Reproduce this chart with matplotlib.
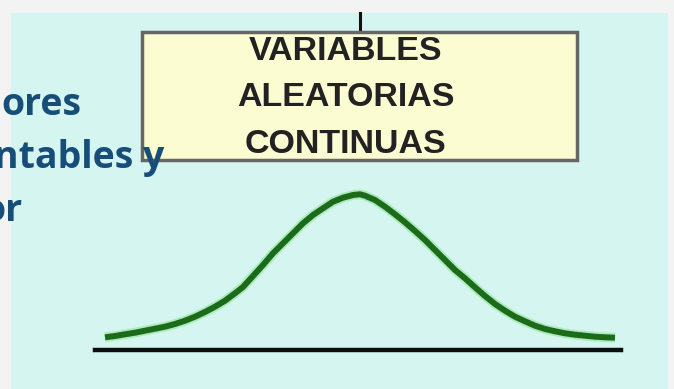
import matplotlib.pyplot as plt
from matplotlib.patches import Rectangle

# Bell curve (pixel coords, y grows downward)
curve_x = [105, 115, 125, 135, 145, 155, 165, 175, 185, 195, 205, 215, 225, 235,
           243, 253, 263, 273, 283, 293, 303, 313, 323, 333, 343, 353, 360,
           365, 375, 385, 395, 405, 415, 425, 435, 445, 455,
           465, 475, 485, 495, 505, 515, 525, 535, 545, 555, 565, 575, 585, 595, 605, 615]
curve_y = [337.3, 336.0, 334.3, 332.7, 330.7, 328.7, 326.7, 324.0, 320.7, 316.7, 312.0,
           306.7, 300.7, 293.3,
           287.0, 276.0, 265.0, 253.3, 243.3, 233.3, 223.3, 215.0, 208.3, 201.7, 197.7,
           195.0, 194.3,
           195.7, 200.0, 206.7, 214.3, 222.3, 231.0, 240.0, 250.0, 260.0, 270.0,
           278.3, 287.3, 296.0, 304.0, 310.7, 316.7, 321.3, 325.7, 329.0, 331.3, 333.3,
           334.7, 335.7, 336.7, 337.3, 337.7]

box_lines = ["VARIABLES", "ALEATORIAS", "CONTINUAS"]
side_lines = ["ores", "ntables y", "or"]
side_x = [1, -6, -18]

fig = plt.figure(figsize=(6.74, 3.89), dpi=100)
fig.patch.set_facecolor("#f3f3f3")
ax = fig.add_axes([0, 0, 1, 1])
ax.set_xlim(0, 674)
ax.set_ylim(389, 0)
ax.axis("off")

# light cyan panel
ax.add_patch(Rectangle((11, 13), 657, 380, facecolor="#d5f5f0", edgecolor="none", zorder=0))

# connector line and box
ax.plot([360, 360], [13, 32], color="#111111", lw=2.2, zorder=2)
ax.add_patch(Rectangle((142, 32), 435, 128, facecolor="#fcfcd2", edgecolor="#666666", lw=2.5, zorder=2))
for i, t in enumerate(box_lines):
    ax.text(346, 51 + i * 46.5, t, ha="center", va="center", fontsize=24.5,
            family="Liberation Sans", fontweight="bold", color="#222222", zorder=3)

# left text, cut off by the frame edge like in the source
for i, t in enumerate(side_lines):
    ax.text(side_x[i], 115 + i * 53, t, ha="left", va="baseline", fontsize=27,
            family="Open Sans", fontweight="bold", color="#174d79", zorder=4)

# bell curve with soft halo, then baseline
ax.plot(curve_x, curve_y, color="#7be07b", lw=7, alpha=0.45, solid_capstyle="butt", zorder=3)
ax.plot(curve_x, curve_y, color="#1b6b1b", lw=4.3, solid_capstyle="butt", zorder=4)
ax.plot([95, 621], [350, 350], color="#0d0d0d", lw=3.2, zorder=4)

plt.savefig("out.png", dpi=100, facecolor=fig.get_facecolor())
